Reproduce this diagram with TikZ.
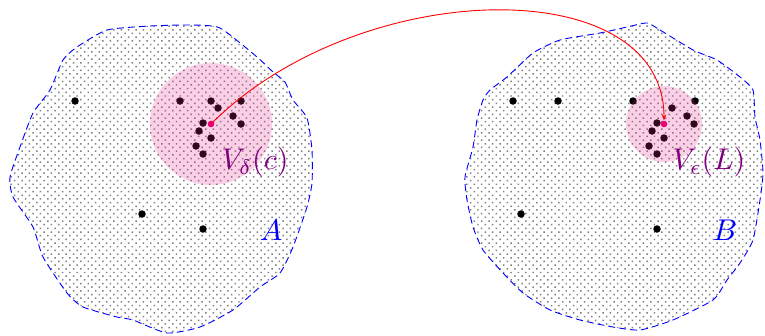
\documentclass[tikz,border=0pt]{standalone}
\usetikzlibrary{patterns.meta,arrows.meta}
\definecolor{pinkfill}{RGB}{230,40,140}
\definecolor{labviolet}{RGB}{128,0,128}
\definecolor{magdot}{RGB}{235,0,120}
\tikzset{
  blob/.style={draw=blue, dash pattern=on 7pt off 4pt, line width=0.9pt,
    pattern={Dots[distance=5.2pt, angle=45, radius=1.05pt]}, pattern color=black!50},
  dotn/.style={circle, fill=black, inner sep=0pt, minimum size=7.5pt},
  mdot/.style={circle, fill=magdot, inner sep=0pt, minimum size=6.6pt},
  halo/.style={fill=pinkfill, fill opacity=0.22},
  lbl/.style={scale=3, inner sep=0pt},
  link/.style={red, line width=0.9pt, -{Stealth[length=6pt,width=4.5pt]}}
}
\begin{document}
\begin{tikzpicture}[x=1pt,y=-1pt]
\useasboundingbox (0,0) rectangle (765,335);
% blob A
\draw[blob] plot[smooth cycle, tension=0.35] coordinates {
(107,30) (150,26) (190,25) (220,28) (257,57) (273,72) (285,82) (293,100) (307,118) (312,150) (312,183) (307,207) (293,247) (280,273) (260,287) (233,310) (200,327) (167,333) (133,320) (117,317) (83,307) (67,293) (43,257) (33,227) (13,197) (10,177) (20,147) (33,113) (50,90) (63,60) (77,47)};
% blob B
\draw[blob] plot[smooth cycle, tension=0.35] coordinates {
(647,23) (660,30) (693,50) (717,60) (740,77) (753,90) (755,117) (760,140) (763,173) (760,200) (753,240) (740,263) (727,280) (713,300) (673,320) (640,330) (613,327) (580,320) (550,310) (523,293) (503,273) (483,250) (473,227) (467,200) (465,177) (473,147) (477,120) (483,100) (490,90) (507,77) (533,53) (560,40) (600,33) (627,27)};
% dots in A
\node[dotn] (a1) at (75,101) {};
\node[dotn] (a2) at (180,101) {};
\node[dotn] (a3) at (211,101) {};
\node[dotn] (a4) at (241,101) {};
\node[dotn] (a5) at (218,108) {};
\node[dotn] (a6) at (233,116) {};
\node[dotn] (a7) at (241,124) {};
\node[dotn] (a8) at (203,123) {};
\node[dotn] (a9) at (199,131) {};
\node[dotn] (a10) at (211,138) {};
\node[dotn] (a11) at (196,146) {};
\node[dotn] (a12) at (203,154) {};
\node[dotn] (a13) at (142,214) {};
\node[dotn] (a14) at (203,229) {};
% dots in B
\node[dotn] (b1) at (513,101) {};
\node[dotn] (b2) at (558,101) {};
\node[dotn] (b3) at (633,101) {};
\node[dotn] (b4) at (695,101) {};
\node[dotn] (b5) at (672,108) {};
\node[dotn] (b6) at (687,116) {};
\node[dotn] (b7) at (694,124) {};
\node[dotn] (b8) at (657,123) {};
\node[dotn] (b9) at (652,131) {};
\node[dotn] (b10) at (664,138) {};
\node[dotn] (b11) at (649,146) {};
\node[dotn] (b12) at (657,154) {};
\node[dotn] (b13) at (521,214) {};
\node[dotn] (b14) at (657,229) {};
% neighbourhoods
\coordinate (cc) at (211,124);
\coordinate (lc) at (664,124);
\fill[halo] (cc) circle (61);
\fill[halo] (lc) circle (38);
\node[mdot] (c) at (cc) {};
\node[mdot] (L) at (lc) {};
% labels
\node[lbl, text=labviolet] (vd) at (255,162) {$V_\delta(c)$};
\node[lbl, text=labviolet] (ve) at (709,162) {$V_\epsilon(L)$};
\node[lbl, text=blue] (la) at (271,230) {$A$};
\node[lbl, text=blue] (lb) at (725,230) {$B$};
% arrow
\draw[link] (c.center) .. controls +(148,-148) and +(0,-154) .. (L);
\end{tikzpicture}
\end{document}
